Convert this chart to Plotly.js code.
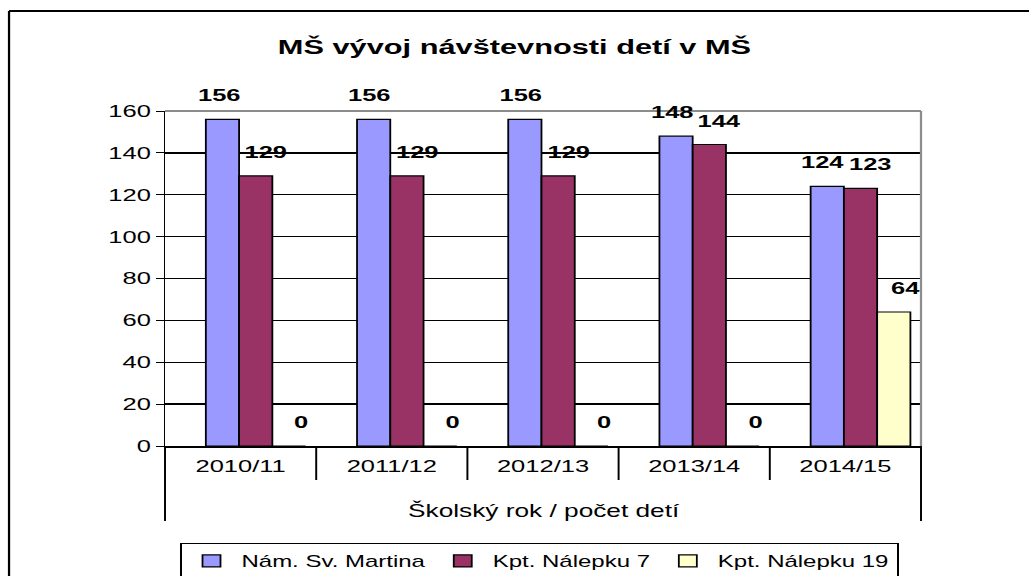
<!DOCTYPE html>
<html>
<head>
<meta charset="utf-8">
<script src="https://cdn.plot.ly/plotly-3.0.1.min.js"></script>
<style>
  html, body { margin: 0; padding: 0; background: #ffffff; overflow: hidden; width: 1029px; height: 576px; }
  #wrap { width: 686px; height: 576px; transform: scaleX(1.5); transform-origin: 0 0; }
</style>
</head>
<body>
<div id="wrap"><div id="chart" style="width:686px;height:576px;"></div></div>
<script>
// ---- data ----
const categories = ['2010/11', '2011/12', '2012/13', '2013/14', '2014/15'];
const seriesNames = ['Nám. Sv. Martina', 'Kpt. Nálepku 7', 'Kpt. Nálepku 19'];
const namSvMartina = [156, 156, 156, 148, 124];
const kptNalepku7 = [129, 129, 129, 144, 123];
const kptNalepku19 = [0, 0, 0, 0, 64];
const yTickValues = [0, 20, 40, 60, 80, 100, 120, 140, 160];
const chartTitle = 'MŠ vývoj návštevnosti detí v MŠ';
const xTitle = 'Školský rok / počet detí';

// ---- styling ----
const FONT = 'Liberation Sans, Arial, sans-serif';
const SX = 1.5;                         // horizontal stretch of the whole picture
const W = 686, H = 576;
const M = { l: 110, r: 72, t: 111, b: 130 };
const colors = ['#9999FF', '#993366', '#FFFFCC'];
const offsets = [-0.23, -0.01, 0.21];
const barWidth = 0.22;
const labelNudge = [-4, 10, 12];        // label nudge in final pixels, per series
const labelLift = 12;                   // label lift above bar top, px
const seriesValues = [namSvMartina, kptNalepku7, kptNalepku19];

const traces = seriesValues.map((vals, i) => ({
  type: 'bar',
  name: seriesNames[i],
  x: categories,
  y: vals,
  offset: offsets[i],
  width: barWidth,
  marker: { color: colors[i], line: { color: '#000000', width: 1.2 } },
  textposition: 'none',
  cliponaxis: false,
  hoverinfo: 'skip'
}));

// data labels, placed through the axes at (category, value)
const N = categories.length;
const catPx = (W - M.l - M.r) / N;
const annotations = [];
seriesValues.forEach((vals, i) => {
  vals.forEach((v, j) => {
    annotations.push({
      xref: 'x', yref: 'y', x: categories[j], y: v,
      text: String(v), showarrow: false,
      xanchor: 'center', yanchor: 'bottom',
      xshift: (offsets[i] + barWidth / 2) * catPx + labelNudge[i] / SX,
      yshift: labelLift,
      font: { family: FONT, size: 17, color: '#000000', weight: 'bold' }
    });
  });
});
annotations.push({
  text: xTitle, xref: 'paper', yref: 'paper',
  x: 0.5, y: (446 - 510) / 335, xanchor: 'center', yanchor: 'middle',
  showarrow: false,
  font: { family: FONT, size: 17.5, color: '#000000' }
});

// decorations: category dividers below the axis, plot border, chart frame
const shapes = [];
for (let i = 0; i <= N; i++) {
  const outer = (i === 0 || i === N);
  shapes.push({
    type: 'line', xref: 'paper', yref: 'paper',
    x0: i / N, x1: i / N, y0: 0, y1: outer ? -0.224 : -0.1015,
    line: { color: '#000000', width: 1.3 }
  });
}
shapes.push({ type: 'line', xref: 'paper', yref: 'paper', x0: 0, x1: 1, y0: 1, y1: 1, line: { color: '#8c8c8c', width: 2 } });
shapes.push({ type: 'line', xref: 'paper', yref: 'paper', x0: 1, x1: 1, y0: 0, y1: 1, line: { color: '#8c8c8c', width: 1.5 } });
shapes.push({ type: 'line', xref: 'paper', yref: 'paper', x0: -0.2063, x1: -0.2063, y0: 1.2985, y1: -0.45, line: { color: '#000000', width: 1.5 } });
shapes.push({ type: 'line', xref: 'paper', yref: 'paper', x0: -0.2063, x1: 1.2, y0: 1.2985, y1: 1.2985, line: { color: '#000000', width: 2 } });

const layout = {
  width: W,
  height: H,
  margin: { l: M.l, r: M.r, t: M.t, b: M.b, pad: 0, autoexpand: false },
  paper_bgcolor: '#ffffff',
  plot_bgcolor: '#ffffff',
  barmode: 'overlay',
  showlegend: true,
  title: {
    text: chartTitle,
    font: { family: FONT, size: 20.5, color: '#000000', weight: 'bold' },
    x: 0.5, xref: 'container', xanchor: 'center',
    y: 1 - 47 / 576, yref: 'container', yanchor: 'middle'
  },
  xaxis: {
    type: 'category',
    range: [-0.5, N - 0.5],
    showline: true, linecolor: '#000000', linewidth: 1.5,
    showgrid: false, zeroline: false,
    ticks: '', ticklabelstandoff: 4,
    tickfont: { family: FONT, size: 17, color: '#000000' },
    fixedrange: true
  },
  yaxis: {
    range: [0, 160],
    tickvals: yTickValues,
    ticktext: yTickValues.map(String),
    showline: true, linecolor: '#000000', linewidth: 1,
    ticks: 'outside', ticklen: 5, tickcolor: '#000000', tickwidth: 1,
    showgrid: true, gridcolor: '#000000', gridwidth: 1.4,
    zeroline: false,
    tickfont: { family: FONT, size: 17, color: '#000000' },
    fixedrange: true
  },
  legend: {
    orientation: 'h',
    x: (180 - 165) / 756, xanchor: 'left',
    y: (446 - 543) / 335, yanchor: 'top',
    bordercolor: '#000000', borderwidth: 1,
    bgcolor: '#ffffff',
    font: { family: FONT, size: 16, color: '#000000' },
    itemwidth: 30,
    tracegroupgap: 0,
    traceorder: 'normal'
  },
  annotations: annotations,
  shapes: shapes
};

Plotly.newPlot('chart', traces, layout, { staticPlot: true, displayModeBar: false });
</script>
</body>
</html>
